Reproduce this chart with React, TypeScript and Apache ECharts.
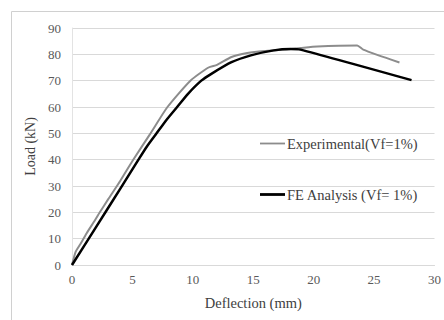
import React, { useEffect, useRef } from "react";
import * as echarts from "echarts";

const expDeflection = [0, 0.3, 0.7, 1.2, 1.9, 2.3, 3, 4, 5, 6.5, 7.9, 9.8, 11.3, 12, 13.2, 14.5, 15.9, 17.6, 18.9, 20.3, 23.6, 24.1, 27.1];
const expLoad = [0, 5, 8, 12, 17, 20, 25, 32, 39.5, 50, 60, 70, 75, 76, 79, 80.5, 81.3, 81.8, 82.4, 83, 83.4, 81.8, 76.9];

const feDeflection = [0, 2, 4, 5.5, 6.2, 7, 7.8, 8.7, 9.6, 10.7, 11.5, 13.2, 14.8, 16.7, 18.1, 18.9, 28.1];
const feLoad = [0, 14.5, 29, 40, 45, 50, 55, 60, 65, 70, 72.5, 77, 79.6, 81.5, 82, 81.8, 70.2];

const seriesNames = ["Experimental(Vf=1%)", "FE Analysis (Vf= 1%)"];
const xTitle = "Deflection (mm)";
const yTitle = "Load (kN)";

const FONT = "'Liberation Serif', 'Times New Roman', serif";

export default function App() {
  const ref = useRef<HTMLDivElement>(null);
  useEffect(() => {
    if (!ref.current) return;
    const chart = echarts.init(ref.current, null, { renderer: "svg" });
    const exp = expDeflection.map((d, i) => [d, expLoad[i]]);
    const fe = feDeflection.map((d, i) => [d, feLoad[i]]);
    chart.setOption({
      animation: false,
      backgroundColor: "#ffffff",
      graphic: [
        {
          type: "rect",
          shape: { x: 11.5, y: 11.5, width: 460, height: 340 },
          style: { fill: "none", stroke: "#d0d0d0", lineWidth: 1 },
          silent: true,
        },
      ],
      grid: { left: 72, right: 5, top: 28, bottom: 55 },
      legend: {
        orient: "vertical",
        left: 260,
        top: 136,
        padding: 0,
        itemGap: 36,
        itemWidth: 25,
        itemHeight: 16,
        icon: "path://M0,7 L25,7 L25,9 L0,9 Z",
        data: [
          { name: seriesNames[0], icon: "path://M0,7.1 L25,7.1 L25,8.9 L0,8.9 Z" },
          { name: seriesNames[1], icon: "path://M0,6.6 L25,6.6 L25,9.4 L0,9.4 Z" },
        ],
        textStyle: { fontFamily: FONT, fontSize: 14.5, color: "#404040", padding: [0, 0, 0, -3] },
      },
      xAxis: {
        type: "value",
        min: 0,
        max: 30,
        interval: 5,
        name: xTitle,
        nameLocation: "middle",
        nameGap: 30,
        nameTextStyle: { fontFamily: FONT, fontSize: 14.5, color: "#404040" },
        axisLine: { show: true, lineStyle: { color: "#d9d9d9" } },
        axisTick: { show: false },
        splitLine: { show: false },
        axisLabel: { fontFamily: FONT, fontSize: 13, color: "#595959", margin: 8 },
      },
      yAxis: {
        type: "value",
        min: 0,
        max: 90,
        interval: 10,
        name: yTitle,
        nameLocation: "middle",
        nameGap: 35,
        nameTextStyle: { fontFamily: FONT, fontSize: 14, color: "#404040" },
        axisLine: { show: true, lineStyle: { color: "#e3e3e3" } },
        axisTick: { show: false },
        splitLine: { show: true, lineStyle: { color: "#d9d9d9", width: 1 } },
        axisLabel: { fontFamily: FONT, fontSize: 13, color: "#595959", margin: 11 },
      },
      series: [
        {
          name: seriesNames[0],
          type: "line",
          data: exp,
          symbol: "none",
          smooth: 0.2,
          lineStyle: { color: "#8c8c8c", width: 2 },
          itemStyle: { color: "#8c8c8c" },
        },
        {
          name: seriesNames[1],
          type: "line",
          data: fe,
          symbol: "none",
          smooth: 0.2,
          lineStyle: { color: "#000000", width: 2.5 },
          itemStyle: { color: "#000000" },
        },
      ],
    });
    return () => chart.dispose();
  }, []);
  return (
    <div
      ref={ref}
      style={{ position: "fixed", left: 0, top: 0, width: 444, height: 320 }}
    />
  );
}
